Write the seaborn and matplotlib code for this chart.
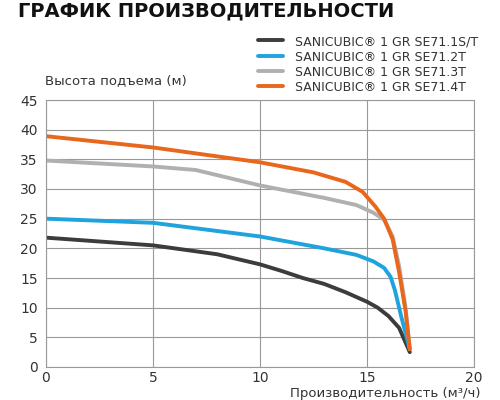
import matplotlib
matplotlib.use("Agg")
import matplotlib.pyplot as plt
import seaborn as sns
import pandas as pd

sns.set_theme(style="white")
plt.rcParams['font.family'] = ['DejaVu Sans']

names = ["SANICUBIC® 1 GR SE71.1S/T", "SANICUBIC® 1 GR SE71.2T",
         "SANICUBIC® 1 GR SE71.3T", "SANICUBIC® 1 GR SE71.4T"]
colors = ["#3c3c3c", "#1fa3dc", "#b0b0b0", "#e8671c"]
x1 = [0, 5, 8, 10, 11, 12, 13, 14, 15, 15.5, 16, 16.5, 17]
y1 = [21.8, 20.5, 19, 17.3, 16.2, 15, 14, 12.6, 11, 10, 8.6, 6.6, 2.5]
x2 = [0, 5, 10, 13, 14.5, 15.3, 15.8, 16.1, 16.3, 16.6, 17]
y2 = [25, 24.3, 22, 20, 18.9, 17.8, 16.7, 15.2, 13, 8.5, 3]
x3 = [0, 5, 7, 10, 13, 14.5, 15.3, 15.8, 16.2, 16.5, 16.8, 17]
y3 = [34.8, 33.8, 33.2, 30.6, 28.5, 27.3, 26, 24.8, 22, 17, 10, 3]
x4 = [0, 5, 10, 12.5, 14, 14.8, 15.4, 15.8, 16.2, 16.5, 16.8, 17]
y4 = [38.9, 37, 34.5, 32.8, 31.2, 29.5, 27, 25, 21.5, 16, 9.5, 3]

rows = []
for n, xs, ys in zip(names, [x1, x2, x3, x4], [y1, y2, y3, y4]):
    rows += [(n, a, b) for a, b in zip(xs, ys)]
df = pd.DataFrame(rows, columns=["s", "q", "h"])

fig = plt.figure(figsize=(5, 4), dpi=100)
ax = fig.add_axes([0.092, 0.0825, 0.856, 0.6675])
sns.lineplot(data=df, x="q", y="h", hue="s", palette=colors, linewidth=2.8,
             ax=ax, legend=False, sort=False)
ax.set_xlim(0, 20); ax.set_ylim(0, 45)
ax.set_xticks(range(0, 21, 5)); ax.set_yticks(range(0, 46, 5))
ax.grid(True, color="#999999", linewidth=0.8)
for s in ax.spines.values():
    s.set_color("#999999"); s.set_linewidth(0.8)
ax.tick_params(length=0, labelsize=10, colors="#333333", pad=3)
ax.tick_params(axis="y", pad=6)
ax.set_xlabel(""); ax.set_ylabel("")
fig.text(0.09, 0.79, "Высота подъема (м)", fontsize=9.5, color="#333333")
fig.text(0.96, 0.0, "Производительность (м³/ч)", fontsize=9.5, color="#333333",
         ha="right", va="bottom")
fig.text(0.035, 0.96, "ГРАФИК ПРОИЗВОДИТЕЛЬНОСТИ", fontsize=14, fontweight="bold", color="#111111")
for i, (n, c) in enumerate(zip(names, colors)):
    y = 0.895 - i * 0.038
    fig.add_artist(plt.Line2D([0.515, 0.565], [y + 0.004, y + 0.004], color=c, linewidth=2.8))
    fig.text(0.59, y, n, fontsize=9, color="#333333", va="center")
fig.savefig("out.png", dpi=100)
